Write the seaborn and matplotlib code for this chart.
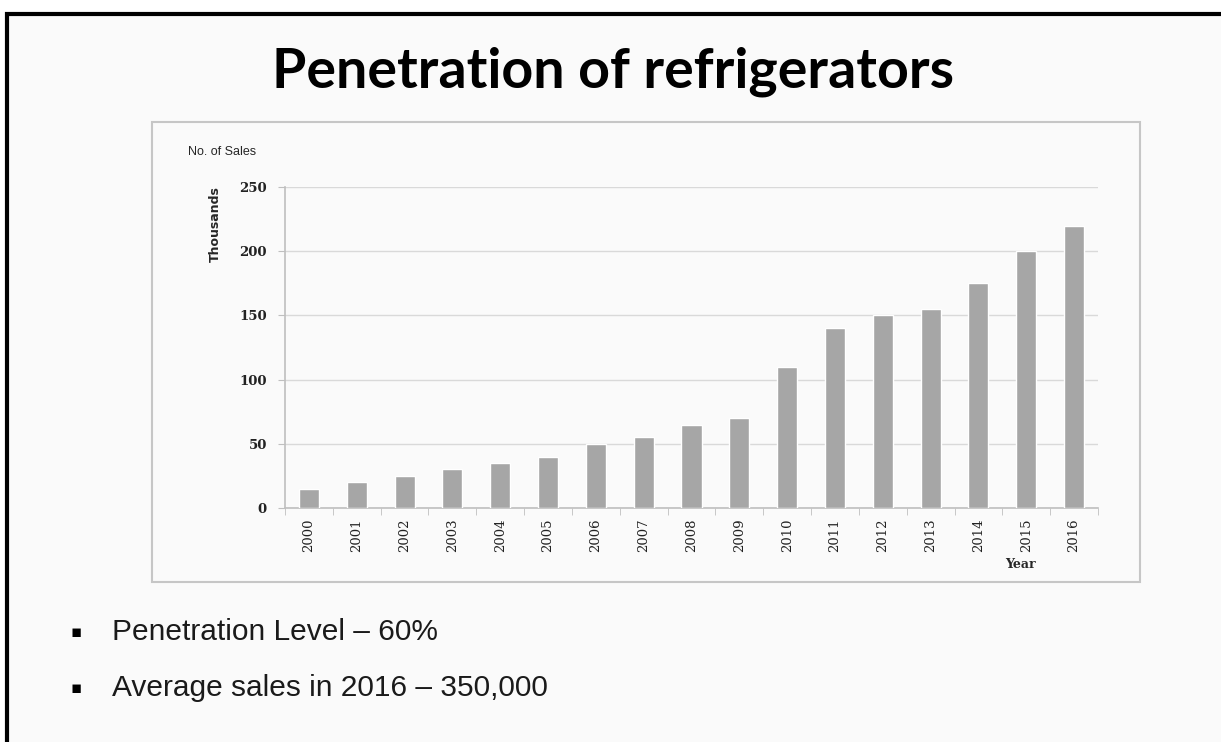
import matplotlib
matplotlib.use("Agg")
import matplotlib.pyplot as plt
import seaborn as sns
from matplotlib.patches import Rectangle

years = [str(y) for y in range(2000, 2017)]
sales = [15, 20, 25, 30, 35, 40, 50, 55, 65, 70, 110, 140, 150, 155, 175, 200, 220]
y_ticks = [0, 50, 100, 150, 200, 250]
bullets = ["Penetration Level \u2013 60%", "Average sales in 2016 \u2013 350,000"]

W, H = 1221, 742
sns.set_style("white")

fig = plt.figure(figsize=(W / 100, H / 100), dpi=100)
fig.patch.set_facecolor("white")


def px(x, y):
    # pixel coords (top-left origin) -> figure fraction
    return x / W, 1 - y / H


# slide background with black border
fig.patches.append(Rectangle(px(7, 760), (W + 20) / W, (760 - 14) / H,
                             transform=fig.transFigure, facecolor="#fafafa",
                             edgecolor="black", linewidth=3, zorder=-3))
# chart box
fig.patches.append(Rectangle(px(152, 582), (1140 - 152) / W, (582 - 122) / H,
                             transform=fig.transFigure, facecolor="#fafafa",
                             edgecolor="#c6c6c6", linewidth=1.5, zorder=-2))

ax = fig.add_axes([285 / W, 1 - 508 / H, (1098 - 285) / W, (508 - 187) / H])
ax.set_facecolor("#fafafa")
sns.barplot(x=years, y=sales, color="#a6a6a6", saturation=1, width=0.42, ax=ax, zorder=3)

ax.set_ylim(0, 250)
ax.set_yticks(y_ticks)
ax.set_xlim(-0.5, len(years) - 0.5)
ax.grid(axis="y", color="#d9d9d9", linewidth=1, zorder=0)
ax.set_axisbelow(True)
for s in ["top", "right"]:
    ax.spines[s].set_visible(False)
for s in ["left", "bottom"]:
    ax.spines[s].set_color("#bfbfbf")
    ax.spines[s].set_linewidth(1.2)

ax.tick_params(axis="y", which="major", left=True, length=5, color="#bfbfbf",
               labelsize=9.5, pad=8)
ax.set_xticks([i + 0.5 for i in range(-1, len(years))], minor=True)
ax.tick_params(axis="x", which="minor", bottom=True, length=5, color="#bfbfbf")
ax.tick_params(axis="x", which="major", bottom=False, labelsize=9.5, pad=4,
               labelrotation=90)
for lab in ax.get_xticklabels() + ax.get_yticklabels():
    lab.set_fontfamily("DejaVu Serif")
    lab.set_color("#222222")
for lab in ax.get_yticklabels():
    lab.set_fontweight("bold")
ax.set_xlabel("")
ax.set_ylabel("")

fig.text(*px(1020, 564), "Year", ha="center", va="center", fontsize=9,
         fontfamily="DejaVu Serif", fontweight="bold", color="#262626")
fig.text(*px(215, 224), "Thousands", ha="center", va="center", rotation=90,
         fontsize=9, fontfamily="Liberation Sans Narrow", fontweight="bold",
         color="#262626")
fig.text(*px(188, 152), "No. of Sales", ha="left", va="center", fontsize=9,
         fontfamily="Liberation Sans", color="#262626")

fig.text(*px(613, 72), "Penetration of refrigerators", ha="center", va="center",
         fontsize=40, fontfamily="Lato", fontweight="bold", color="black")

for i, txt in enumerate(bullets):
    yy = 632 + i * 56
    fig.text(*px(76, yy), "\u25aa", ha="center", va="center", fontsize=12,
             fontfamily="DejaVu Sans", color="black")
    fig.text(*px(112, yy), txt, ha="left", va="center", fontsize=21.5,
             fontfamily="Liberation Sans", color="#1a1a1a")

fig.savefig("out.png", dpi=100, facecolor=fig.get_facecolor())
